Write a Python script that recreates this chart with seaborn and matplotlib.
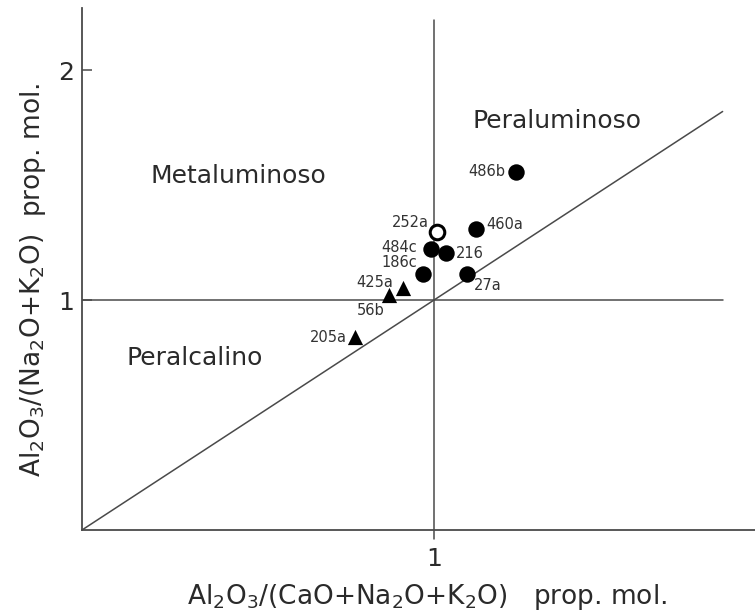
import matplotlib
matplotlib.use("Agg")
import matplotlib.pyplot as plt
import seaborn as sns
import pandas as pd

# ---- data ----
samples = ["486b", "252a", "460a", "484c", "216", "186c", "27a", "425a", "56b", "205a"]
x_acnk = [1.234, 1.009, 1.120, 0.991, 1.034, 0.969, 1.094, 0.912, 0.872, 0.775]
y_ank = [1.557, 1.296, 1.309, 1.222, 1.204, 1.113, 1.113, 1.052, 1.022, 0.839]
groups = ["filled", "open", "filled", "filled", "filled", "filled", "filled",
          "triangle", "triangle", "triangle"]

region_names = ["Metaluminoso", "Peraluminoso", "Peralcalino"]
region_x = [0.443, 1.35, 0.32]
region_y = [1.54, 1.78, 0.75]

x_ticks = [1]
y_ticks = [1, 2]

# boundary lines
line_end = 1.82
vline_top = 2.22

df = pd.DataFrame({"sample": samples, "x": x_acnk, "y": y_ank, "group": groups})

# label placement (offset in points, alignment)
label_style = {
    "486b": (-8, 0, "right", "center"),
    "252a": (-6, 7, "right", "center"),
    "460a": (7, 3, "left", "center"),
    "484c": (-10, 1, "right", "center"),
    "216": (7, 0, "left", "center"),
    "186c": (-4, 8, "right", "center"),
    "27a": (5, -8, "left", "center"),
    "425a": (-7, 4, "right", "center"),
    "56b": (-13, -11, "center", "center"),
    "205a": (-6, 0, "right", "center"),
}

sns.set_theme(style="white")
plt.rcParams["font.family"] = ["DejaVu Sans"]

fig = plt.figure(figsize=(7.55, 6.16), dpi=100)
ax = fig.add_axes([0.1086, 0.1396, 0.8914, 0.8474])

lc = "#4a4a4a"
ax.plot([0, line_end], [1, 1], color=lc, lw=1.1, zorder=1)
ax.plot([1, 1], [-0.04, vline_top], color=lc, lw=1.1, zorder=1, clip_on=False)
ax.plot([0, line_end], [0, line_end], color=lc, lw=1.1, zorder=1)

sns.scatterplot(data=df[df.group == "filled"], x="x", y="y", ax=ax, color="black",
                marker="o", s=140, edgecolor="black", linewidth=0, zorder=3, legend=False)
sns.scatterplot(data=df[df.group == "open"], x="x", y="y", ax=ax, color="white",
                marker="o", s=110, edgecolor="black", linewidth=2.2, zorder=3, legend=False)
sns.scatterplot(data=df[df.group == "triangle"], x="x", y="y", ax=ax, color="black",
                marker="^", s=120, edgecolor="black", linewidth=0, zorder=3, legend=False)

for s, xv, yv in zip(samples, x_acnk, y_ank):
    dx, dy, ha, va = label_style[s]
    ax.annotate(s, (xv, yv), xytext=(dx, dy), textcoords="offset points",
                ha=ha, va=va, fontsize=10.5, color="#333333")

for name, rx, ry in zip(region_names, region_x, region_y):
    ax.text(rx, ry, name, ha="center", va="center", fontsize=18, color="#2a2a2a")

ax.set_xlim(0, 1.912)
ax.set_ylim(0, 2.27)
ax.set_xticks(x_ticks)
ax.set_yticks(y_ticks)
ax.set_xticklabels([str(t) for t in x_ticks], fontsize=18, color="#2a2a2a")
ax.set_yticklabels([str(t) for t in y_ticks], fontsize=18, color="#2a2a2a")
ax.tick_params(axis="y", direction="in", length=7, width=1.1, color=lc, pad=6, left=True)
ax.tick_params(axis="x", direction="out", length=0, pad=12, bottom=True)

for side in ["top", "right"]:
    ax.spines[side].set_visible(False)
for side in ["left", "bottom"]:
    ax.spines[side].set_color(lc)
    ax.spines[side].set_linewidth(1.3)

ax.set_xlabel(r"Al$_2$O$_3$/(CaO+Na$_2$O+K$_2$O)   prop. mol.", fontsize=19,
              color="#2a2a2a")
ax.set_ylabel(r"Al$_2$O$_3$/(Na$_2$O+K$_2$O)  prop. mol.", fontsize=19,
              color="#2a2a2a")
ax.xaxis.set_label_coords(0.512, -0.1)
ax.yaxis.set_label_coords(-0.05, 0.48)
ax.set_facecolor("white")
ax.grid(False)

fig.savefig("out.png", dpi=100, facecolor="white")
